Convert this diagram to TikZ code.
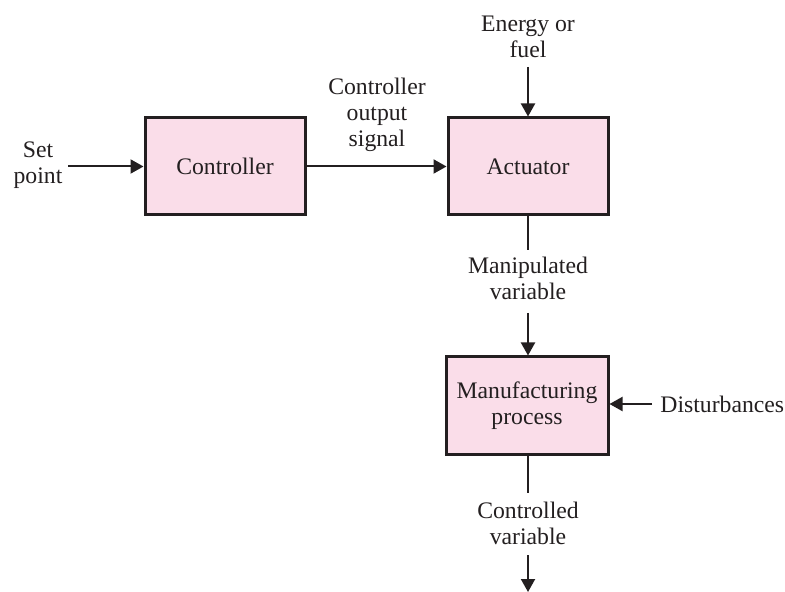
\documentclass[tikz,border=0pt]{standalone}
\usepackage{fontspec}
\setmainfont{Liberation Serif}
\usetikzlibrary{arrows.meta}
\definecolor{ink}{HTML}{231F20}
\definecolor{boxpink}{HTML}{FADDE9}
\begin{document}
\begin{tikzpicture}[x=0.5pt,y=-0.5pt,
  font=\fontsize{11.85pt}{13pt}\selectfont,
  blockbox/.style={draw=ink,fill=boxpink,line width=1.5pt,minimum width=80pt,minimum height=48.5pt,inner sep=0pt,text=ink,align=center},
  lbl/.style={text=ink,align=center,inner sep=0pt},
  arr/.style={draw=ink,line width=1pt,-{Triangle[length=6.5pt,width=7pt]}},
  ln/.style={draw=ink,line width=1pt}]
\useasboundingbox (0,0) rectangle (785,592);
\node[blockbox] (ctrl) at (225,166.5) {Controller};
\node[blockbox] (act) at (528,166.5) {Actuator};
\node[blockbox,minimum width=81pt] (mfg) at (527,405.5) {Manufacturing\\process};
\node[lbl] (sp) at (38,165) {Set\\point};
\node[lbl] (cos) at (377,115) {Controller\\output\\signal};
\node[lbl] (ef) at (528,37) {Energy or\\fuel};
\node[lbl] (mv) at (528,278) {Manipulated\\variable};
\node[lbl] (cv) at (528,523) {Controlled\\variable};
\node[lbl,anchor=west] (dist) at (660,404) {Disturbances};
\coordinate (spstart) at (68,166.5);
\coordinate (efstart) at (528,67);
\coordinate (mvtop) at (528,250);
\coordinate (mvbot) at (528,313);
\coordinate (cvtop) at (528,493);
\coordinate (cvbot) at (528,555);
\coordinate (cvend) at (528,592);
\coordinate (diststart) at (652,404);
\draw[arr] (spstart) -- (ctrl.west);
\draw[arr] (ctrl.east) -- (act.west);
\draw[arr] (efstart) -- (act.north);
\draw[ln] (act.south) -- (mvtop);
\draw[arr] (mvbot) -- (mvbot |- mfg.north);
\draw[ln] (cvtop |- mfg.south) -- (cvtop);
\draw[arr] (cvbot) -- (cvend);
\draw[arr] (diststart) -- (diststart -| mfg.east);
\end{tikzpicture}
\end{document}
